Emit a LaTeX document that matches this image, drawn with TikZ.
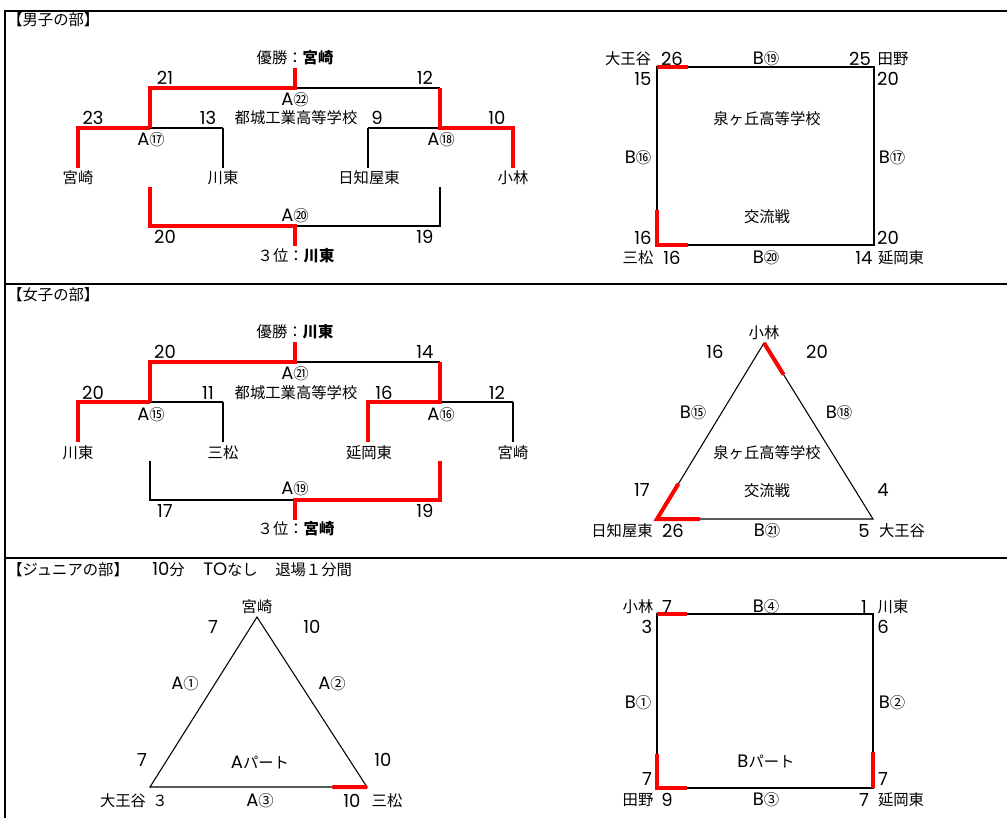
\documentclass[tikz,border=0pt]{standalone}
\usepackage{fontspec}
\setmainfont{Noto Sans CJK JP}
\newfontfamily\latf{Poppins}
\usetikzlibrary{calc}
\newcommand\myfs{\fontsize{11.5}{13}\selectfont}
\newcommand\numfs{\fontsize{13.5}{14}\selectfont}
\newcommand\La[1]{{\latf\numfs #1}}
\begin{document}
\begin{tikzpicture}[x=0.75pt,y=-0.75pt,
  t/.style={inner sep=0pt, font=\myfs, anchor=center},
  sc/.style={inner sep=0pt, font=\latf\numfs, anchor=center},
  tw/.style={inner sep=0pt, font=\myfs, anchor=west},
  thinln/.style={line width=1pt, black},
  win/.style={line width=3pt, red},
  boxln/.style={line width=1.3pt, black},
  triln/.style={line width=0.8pt, black},
  frameln/.style={line width=1.5pt, black}]
\useasboundingbox (0,0) rectangle (1007,818);
% frame
\coordinate (fTL) at (5,11); \coordinate (fTR) at (1007,11); \coordinate (fBL) at (5,818);
\coordinate (s1L) at (5,284); \coordinate (s1R) at (1007,284);
\coordinate (s2L) at (5,558); \coordinate (s2R) at (1007,558);
\draw[frameln] (fTR) -- (fTL) -- (fBL);
\draw[frameln] (s1L) -- (s1R);
\draw[frameln] (s2L) -- (s2R);
\node[tw] (h1) at (7,20) {【男子の部】};
\node[tw] (h2) at (7,295) {【女子の部】};
\node[tw] (h3) at (7,570) {【ジュニアの部】};
\node[tw] (h3a) at (152,570) {\La{10}分};
\node[tw] (h3b) at (203,570) {\La{TO}なし};
\node[tw] (h3c) at (275,570) {退場１分間};

% ===== male bracket =====
\coordinate (m0) at (295,68); \coordinate (mT) at (295,88);
\coordinate (mL) at (150,88); \coordinate (mR) at (440,88);
\coordinate (mL2) at (150,128); \coordinate (mR2) at (440,128);
\coordinate (ma1) at (78,128); \coordinate (ma2) at (223,128);
\coordinate (ma3) at (368,128); \coordinate (ma4) at (513,128);
\coordinate (mb1) at (78,168); \coordinate (mb2) at (223,168);
\coordinate (mb3) at (368,168); \coordinate (mb4) at (513,168);
\coordinate (mc1) at (150,187); \coordinate (mc2) at (150,226);
\coordinate (mc3) at (440,187); \coordinate (mc4) at (440,226);
\coordinate (mcM) at (295,226); \coordinate (mcB) at (295,246);
\draw[thinln] (mL) -- (mR);
\draw[thinln] (ma1) -- (ma2) (ma3) -- (ma4);
\draw[thinln] (ma2) -- (mb2) (ma3) -- (mb3);
\draw[thinln] (mc1) -- (mc2) -- (mc4) -- (mc3);
\draw[win] (m0) -- (mT) -- (mL) -- (mL2);
\draw[win] (mL2) -- (ma1) -- (mb1);
\draw[win] (mR) -- (mR2) -- (ma4) -- (mb4);
\draw[win] (mc1) -- (mc2) -- (mcM) -- (mcB);
\node[t] (mw) at (295,58) {優勝：\textbf{宮崎}};
\node[sc] (ms1) at (165,78) {21};
\node[sc] (ms2) at (425,78) {12};
\node[t] (mg1) at (295,100) {\La{A}㉒};
\node[sc] (ms3) at (93,118) {23};
\node[sc] (ms4) at (208,118) {13};
\node[t] (mv) at (296,118) {都城工業高等学校};
\node[sc] (ms5) at (377,118) {9};
\node[sc] (ms6) at (497,118) {10};
\node[t] (mg2) at (151,140) {\La{A}⑰};
\node[t] (mg3) at (441,140) {\La{A}⑱};
\node[t] (mn1) at (78,178) {宮崎};
\node[t] (mn2) at (223,178) {川東};
\node[t] (mn3) at (369,178) {日知屋東};
\node[t] (mn4) at (513,178) {小林};
\node[t] (mg4) at (295,216) {\La{A}⑳};
\node[sc] (ms7) at (165,237) {20};
\node[sc] (ms8) at (425,237) {19};
\node[t] (m3) at (296,256) {３位：\textbf{川東}};

% ===== female bracket =====
\begin{scope}[shift={(0,274)}]
\coordinate (f0) at (295,68); \coordinate (fT) at (295,88);
\coordinate (fL) at (150,88); \coordinate (fR) at (440,88);
\coordinate (fL2) at (150,128); \coordinate (fR2) at (440,128);
\coordinate (fa1) at (78,128); \coordinate (fa2) at (223,128);
\coordinate (fa3) at (368,128); \coordinate (fa4) at (513,128);
\coordinate (fb1) at (78,168); \coordinate (fb2) at (223,168);
\coordinate (fb3) at (368,168); \coordinate (fb4) at (513,168);
\coordinate (fc1) at (150,187); \coordinate (fc2) at (150,226);
\coordinate (fc3) at (440,187); \coordinate (fc4) at (440,226);
\coordinate (fcM) at (295,226); \coordinate (fcB) at (295,246);
\draw[thinln] (fL) -- (fR);
\draw[thinln] (fa1) -- (fa2) (fa3) -- (fa4);
\draw[thinln] (fa2) -- (fb2) (fa4) -- (fb4);
\draw[thinln] (fc1) -- (fc2) -- (fc4) -- (fc3);
\draw[win] (f0) -- (fT) -- (fL) -- (fL2);
\draw[win] (fL2) -- (fa1) -- (fb1);
\draw[win] (fR) -- (fR2) -- (fa3) -- (fb3);
\draw[win] (fc3) -- (fc4) -- (fcM) -- (fcB);
\node[t] (fw) at (295,58) {優勝：\textbf{川東}};
\node[sc] (fs1) at (165,78) {20};
\node[sc] (fs2) at (425,78) {14};
\node[t] (fg1) at (295,100) {\La{A}㉑};
\node[sc] (fs3) at (93,119) {20};
\node[sc] (fs4) at (208,119) {11};
\node[t] (fv) at (296,119) {都城工業高等学校};
\node[sc] (fs5) at (384,119) {16};
\node[sc] (fs6) at (497,119) {12};
\node[t] (fg2) at (151,141) {\La{A}⑮};
\node[t] (fg3) at (441,141) {\La{A}⑯};
\node[t] (fn1) at (78,179) {川東};
\node[t] (fn2) at (223,179) {三松};
\node[t] (fn3) at (369,179) {延岡東};
\node[t] (fn4) at (513,179) {宮崎};
\node[t] (fg4) at (295,215) {\La{A}⑲};
\node[sc] (fs7) at (165,237) {17};
\node[sc] (fs8) at (425,237) {19};
\node[t] (f3) at (296,255) {３位：\textbf{宮崎}};
\end{scope}

% ===== male square =====
\coordinate (q1) at (657,67); \coordinate (q2) at (874,67);
\coordinate (q3) at (874,245); \coordinate (q4) at (657,245);
\draw[boxln] (q1) -- (q2) -- (q3) -- (q4) -- cycle;
\coordinate (q1r) at (688,67); \coordinate (q4u) at (657,210); \coordinate (q4r) at (688,245);
\draw[win] (q1) -- (q1r);
\draw[win] (q4u) -- (q4) -- (q4r);
\node[t] (qn1) at (628,59) {大王谷};
\node[sc] (qs1) at (672,59) {26};
\node[t] (qg1) at (766,59) {\La{B}⑲};
\node[sc] (qs2) at (860,59) {25};
\node[t] (qn2) at (893,59) {田野};
\node[sc] (qs3) at (643,79) {15};
\node[sc] (qs4) at (888,79) {20};
\node[t] (qv) at (767,119) {泉ヶ丘高等学校};
\node[t] (qg2) at (638,158) {\La{B}⑯};
\node[t] (qg3) at (892,158) {\La{B}⑰};
\node[t] (qx) at (767,217) {交流戦};
\node[sc] (qs5) at (643,238) {16};
\node[sc] (qs6) at (888,238) {20};
\node[t] (qn3) at (638,258) {三松};
\node[sc] (qs7) at (672,258) {16};
\node[t] (qg4) at (766,258) {\La{B}⑳};
\node[sc] (qs8) at (864,258) {14};
\node[t] (qn4) at (901,258) {延岡東};

% ===== female triangle =====
\coordinate (ta) at (764,343); \coordinate (tl) at (657,519); \coordinate (tr) at (873,519);
\draw[triln] (ta) -- (tr) -- (tl) -- cycle;
\draw[win] (ta) -- ($(ta)!0.18!(tr)$);
\draw[win] ($(tl)!0.2!(ta)$) -- (tl) -- ($(tl)!0.2!(tr)$);
\node[t] (tn1) at (764,333) {小林};
\node[sc] (ts1) at (715,352) {16};
\node[sc] (ts2) at (817,352) {20};
\node[t] (tg1) at (693,413) {\La{B}⑮};
\node[t] (tg2) at (839,413) {\La{B}⑱};
\node[t] (tv) at (767,453) {泉ヶ丘高等学校};
\node[t] (tx) at (767,491) {交流戦};
\node[sc] (ts3) at (642,490) {17};
\node[sc] (ts4) at (883,490) {4};
\node[t] (tn2) at (622,531) {日知屋東};
\node[sc] (ts5) at (673,531) {26};
\node[t] (tg3) at (767,531) {\La{B}㉑};
\node[sc] (ts6) at (864,531) {5};
\node[t] (tn3) at (902,531) {大王谷};

% ===== junior A triangle =====
\coordinate (ja) at (257,617); \coordinate (jl) at (150,787); \coordinate (jr) at (367,787);
\draw[triln] (ja) -- (jr) -- (jl) -- cycle;
\draw[win] ($(jr)!0.16!(jl)$) -- (jr);
\node[t] (jn1) at (257,607) {宮崎};
\node[sc] (js1) at (213,627) {7};
\node[sc] (js2) at (312,627) {10};
\node[t] (jg1) at (185,684) {\La{A}①};
\node[t] (jg2) at (332,684) {\La{A}②};
\node[sc] (js3) at (142,760) {7};
\node[t] (jx) at (260,762) {\La{A}パート};
\node[sc] (js4) at (383,760) {10};
\node[t] (jn2) at (123,801) {大王谷};
\node[t] (js5) at (160,801) {３};
\node[t] (jg3) at (260,801) {\La{A}③};
\node[sc] (js6) at (352,801) {10};
\node[t] (jn3) at (387,801) {三松};

% ===== junior B square =====
\coordinate (k1) at (657,614); \coordinate (k2) at (873,614);
\coordinate (k3) at (873,788); \coordinate (k4) at (657,788);
\draw[boxln] (k1) -- (k2) -- (k3) -- (k4) -- cycle;
\coordinate (k1r) at (687,614); \coordinate (k4u) at (657,754);
\coordinate (k4r) at (687,788); \coordinate (k3u) at (873,752);
\draw[win] (k1) -- (k1r);
\draw[win] (k4u) -- (k4) -- (k4r);
\draw[win] (k3u) -- (k3);
\node[t] (kn1) at (638,607) {小林};
\node[sc] (ks1) at (667,607) {7};
\node[t] (kg1) at (766,607) {\La{B}④};
\node[sc] (ks2) at (864,607) {1};
\node[t] (kn2) at (893,607) {川東};
\node[sc] (ks3) at (647,627) {3};
\node[sc] (ks4) at (883,627) {6};
\node[t] (kg2) at (638,703) {\La{B}①};
\node[t] (kg3) at (892,703) {\La{B}②};
\node[t] (kx) at (766,761) {\La{B}パート};
\node[sc] (ks5) at (647,779) {7};
\node[sc] (ks6) at (883,779) {7};
\node[t] (kn3) at (638,800) {田野};
\node[sc] (ks7) at (667,800) {9};
\node[t] (kg4) at (766,800) {\La{B}③};
\node[sc] (ks8) at (864,800) {7};
\node[t] (kn4) at (901,800) {延岡東};
\end{tikzpicture}
\end{document}
